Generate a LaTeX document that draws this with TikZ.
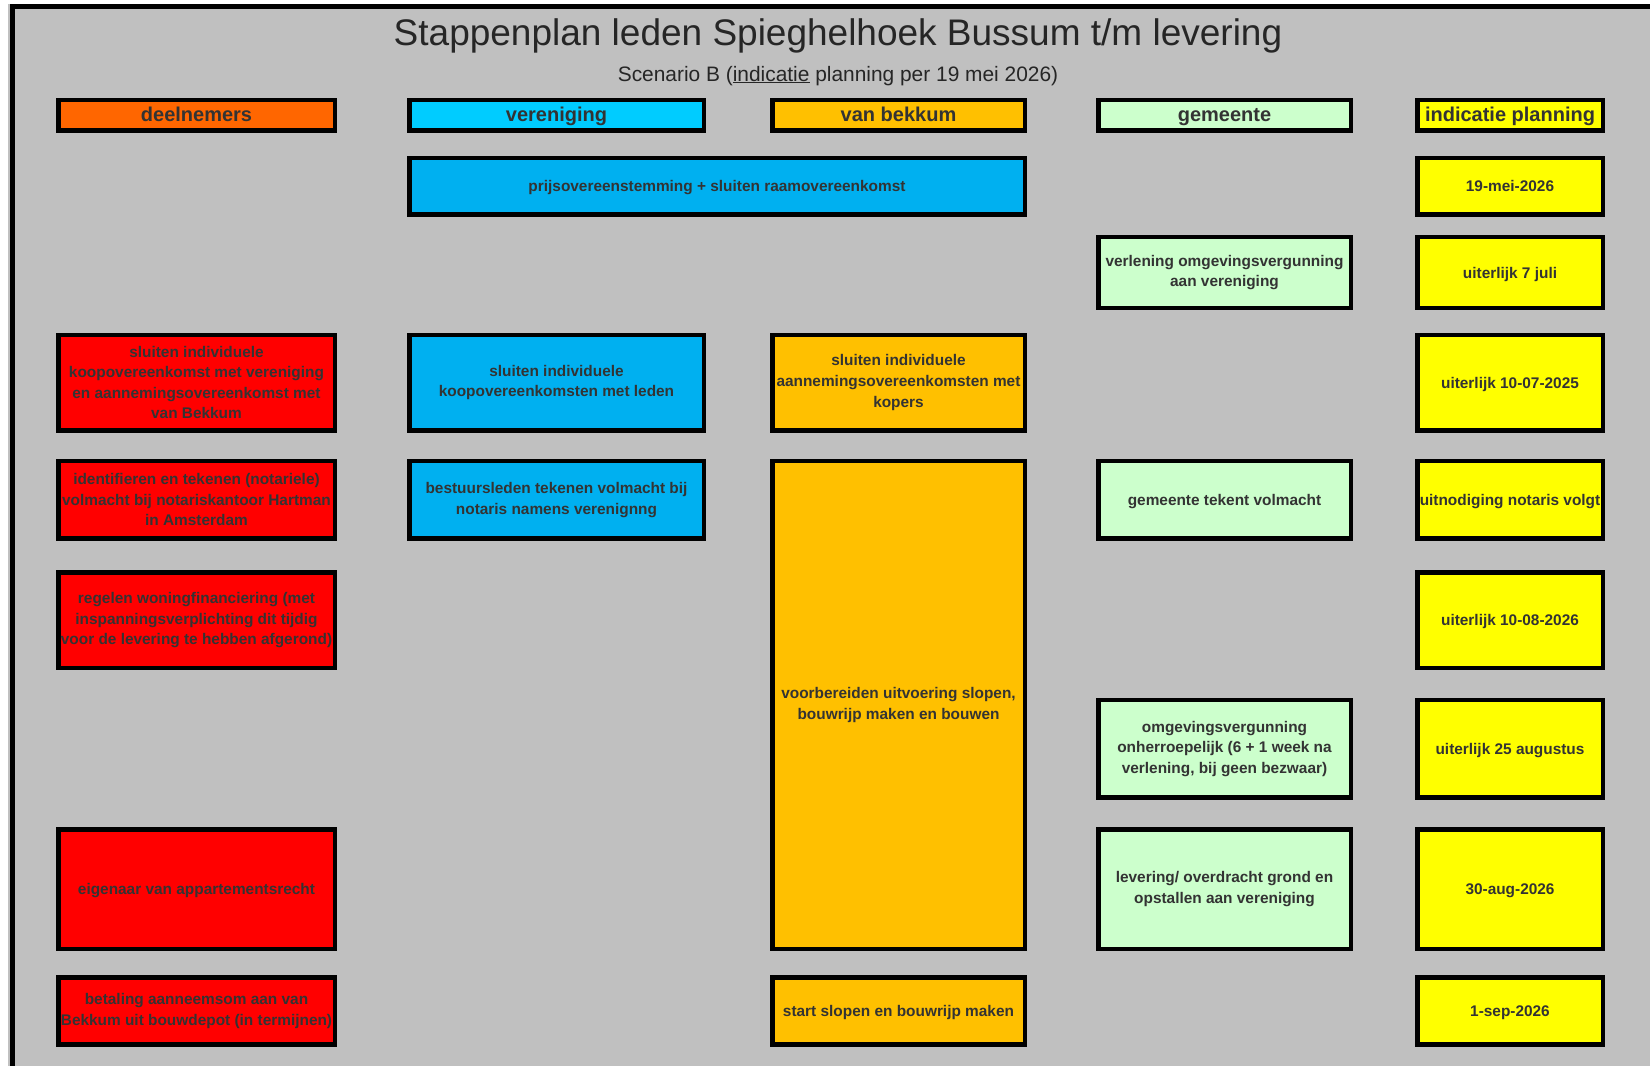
\documentclass[tikz,border=0pt]{standalone}
\usepackage{fontspec}
\setmainfont{Liberation Sans}
\definecolor{bg}{HTML}{C0C0C0}
\definecolor{txt}{HTML}{333333}
\definecolor{hdeel}{HTML}{FF6600}
\definecolor{hver}{HTML}{00CCFF}
\definecolor{cdeel}{HTML}{FF0000}
\definecolor{cver}{HTML}{00B0F0}
\definecolor{cvb}{HTML}{FFC000}
\definecolor{cgem}{HTML}{CCFFCC}
\definecolor{cind}{HTML}{FFFF00}

\begin{document}
\begin{tikzpicture}[x=1pt,y=-1pt]
                \tikzstyle{box}=[draw, line width=4.5pt, inner sep=0pt, align=center, text=txt, font=\bfseries\fontsize{15.4}{20.6}\selectfont]
                \tikzstyle{one}=[text height=13pt, text depth=2pt]
                \tikzstyle{head}=[box, font=\bfseries\fontsize{20}{24}\selectfont, text height=15pt, text depth=3pt, minimum height=30.2pt]
                \tikzstyle{deel}=[box, fill=cdeel, minimum width=276.5pt]
                \tikzstyle{ver}=[box, fill=cver, minimum width=294.5pt]
                \tikzstyle{vb}=[box, fill=cvb, minimum width=252.5pt]
                \tikzstyle{gem}=[box, fill=cgem, minimum width=252.5pt]
                \tikzstyle{ind}=[box, one, fill=cind, minimum width=185.5pt]

                \useasboundingbox (0,0) rectangle (1650,1066);
                \fill[bg] (8,4) rectangle (1650,1066);
                \draw[line width=5pt] (12,1066) -- (12,6.5) -- (1650,6.5);

                \node[anchor=base, text=black!85, font=\fontsize{37}{40}\selectfont] (title) at (838,45) {Stappenplan leden Spieghelhoek Bussum t/m levering};
                \node[anchor=base, text=black!85, font=\fontsize{20.9}{24}\selectfont] (sub) at (838,81) {Scenario B (\underline{indicatie} planning per 19 mei 2026)};

                \node[head, fill=hdeel, minimum width=276.5pt] (hd) at (196.5,115.2) {deelnemers};
                \node[head, fill=hver, minimum width=294.5pt] (hv) at (556.5,115.2) {vereniging};
                \node[head, fill=cvb, minimum width=252.5pt] (hb) at (898.5,115.2) {van bekkum};
                \node[head, fill=cgem, minimum width=252.5pt] (hg) at (1224.5,115.2) {gemeente};
                \node[head, fill=cind, minimum width=185.5pt] (hi) at (1510,115.2) {indicatie planning};

                \node[ver, one, minimum width=615.5pt, minimum height=56.5pt] (v0) at (717,186.3) {prijsovereenstemming + sluiten raamovereenkomst};
                \node[ind, minimum height=56.5pt] (i1) at (1510,186.3) {19-mei-2026};

                \node[gem, minimum height=71.3pt] (g1) at (1224.5,272.5) {verlening omgevingsvergunning\\aan vereniging};
                \node[ind, minimum height=71.3pt] (i2) at (1510,272.5) {uiterlijk 7 juli};

                \node[deel, minimum height=95.5pt] (d1) at (196.5,382.5) {sluiten individuele\\koopovereenkomst met vereniging\\en aannemingsovereenkomst met\\van Bekkum};
                \node[ver, minimum height=95.5pt] (v1) at (556.5,382.5) {sluiten individuele\\koopovereenkomsten met leden};
                \node[vb, minimum height=95.5pt] (b1) at (898.5,382.5) {sluiten individuele\\aannemingsovereenkomsten met\\kopers};
                \node[ind, minimum height=95.5pt] (i3) at (1510,382.5) {uiterlijk 10-07-2025};

                \node[deel, minimum height=77.5pt] (d2) at (196.5,499.8) {identifieren en tekenen (notariele)\\volmacht bij notariskantoor Hartman\\in Amsterdam};
                \node[ver, minimum height=77.5pt] (v2) at (556.5,499.8) {bestuursleden tekenen volmacht bij\\notaris namens verenignng};
                \node[vb, minimum height=488pt] (b2) at (898.5,705) {voorbereiden uitvoering slopen,\\bouwrijp maken en bouwen};
                \node[gem, one, minimum height=77.5pt] (g2) at (1224.5,499.8) {gemeente tekent volmacht};
                \node[ind, minimum height=77.5pt] (i4) at (1510,499.8) {uitnodiging notaris volgt};

                \node[deel, minimum height=95.5pt] (d3) at (196.5,620.3) {regelen woningfinanciering (met\\inspanningsverplichting dit tijdig\\voor de levering te hebben afgerond)};
                \node[ind, minimum height=95.5pt] (i5) at (1510,620.3) {uiterlijk 10-08-2026};

                \node[gem, minimum height=97.5pt] (g3) at (1224.5,748.7) {omgevingsvergunning\\onherroepelijk (6 + 1 week na\\verlening, bij geen bezwaar)};
                \node[ind, minimum height=97.5pt] (i6) at (1510,748.7) {uiterlijk 25 augustus};

                \node[deel, one, minimum height=119.7pt] (d4) at (196.5,889.2) {eigenaar van appartementsrecht};
                \node[gem, minimum height=119.7pt] (g4) at (1224.5,889.2) {levering/ overdracht grond en\\opstallen aan vereniging};
                \node[ind, minimum height=119.7pt] (i7) at (1510,889.2) {30-aug-2026};

                \node[deel, minimum height=67pt] (d5) at (196.5,1011.2) {betaling aanneemsom aan van\\Bekkum uit bouwdepot (in termijnen)};
                \node[vb, one, minimum height=67pt] (b3) at (898.5,1011.2) {start slopen en bouwrijp maken};
                \node[ind, minimum height=67pt] (i8) at (1510,1011.2) {1-sep-2026};
            \end{tikzpicture}
\end{document}
